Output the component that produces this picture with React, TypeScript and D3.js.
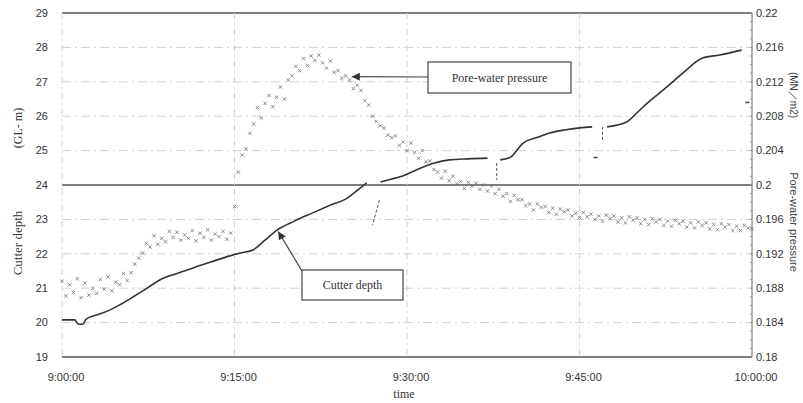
import React, { useEffect, useRef } from 'react'
import * as d3 from 'd3'

// time axis (minutes after 9:00:00)
const timeTickMinutes = [0, 15, 30, 45, 60]
const timeTickLabels = ['9:00:00', '9:15:00', '9:30:00', '9:45:00', '10:00:00']

// left axis: cutter depth (GL- m)
const depthTicks = [19, 20, 21, 22, 23, 24, 25, 26, 27, 28, 29]
const solidDepthLines = [19, 24, 29]

// right axis: pore-water pressure (MN/m2)
const pressureTicks = [0.18, 0.184, 0.188, 0.192, 0.196, 0.2, 0.204, 0.208, 0.212, 0.216, 0.22]

// cutter depth record, null = missing reading
const cutterMinutes = [0, 1.1, 1.4, 1.8, 2.1, 3.0, 4.2, 5.2, 6.2, 7.3, 8.5, 10.0, 11.4, 13.0, 14.6, 15.6, 16.6, 17.6, 18.7, 20.2, 21.8, 23.3, 24.8, 25.7, 26.5, 27.1, 27.7, 28.6, 29.4, 30.9, 32.3, 33.7, 35.3, 37.0, 37.6, 38.1, 39.0, 40.1, 41.3, 42.4, 43.7, 45.0, 46.1, 46.8, 47.4, 49.1, 50.0, 50.9, 52.6, 54.0, 55.7, 57.2, 59.1]
const cutterDepth = [20.08, 20.08, 19.96, 19.95, 20.1, 20.22, 20.37, 20.55, 20.75, 20.98, 21.24, 21.43, 21.59, 21.77, 21.94, 22.03, 22.11, 22.38, 22.69, 22.95, 23.19, 23.41, 23.62, 23.85, 24.06, null, 24.09, 24.17, 24.24, 24.45, 24.63, 24.73, 24.76, 24.78, null, 24.73, 24.81, 25.22, 25.38, 25.51, 25.6, 25.66, 25.69, null, 25.69, 25.83, 26.1, 26.38, 26.85, 27.26, 27.69, 27.78, 27.92]

// drop-outs in the depth record
const dropStartMin = [27.6, 37.8, 47.0]
const dropEndMin = [27.0, 37.8, 47.0]
const dropTop = [23.56, 24.64, 25.69]
const dropBottom = [22.83, 24.15, 25.25]
const strayMinutes = [46.4, 59.6]
const strayDepth = [24.8, 26.4]

// pore-water pressure, one reading every 20 s from 9:00:00
const poreSampleSeconds = 20
const porePressure = [
  0.1888, 0.1871, 0.1884, 0.1875, 0.1891, 0.1869, 0.1886, 0.1872, 0.188, 0.1874, 0.189, 0.1879,
  0.1893, 0.1877, 0.1887, 0.1884, 0.1897, 0.1889, 0.1898, 0.1908, 0.1915, 0.1921, 0.1932, 0.1928,
  0.1941, 0.1931, 0.1938, 0.1934, 0.1946, 0.1939, 0.1945, 0.1936, 0.1942, 0.1938, 0.1947, 0.1935,
  0.1944, 0.1939, 0.1948, 0.1936, 0.1943, 0.194, 0.1946, 0.1937, 0.1944, 0.1975, 0.2015, 0.2035,
  0.2042, 0.206, 0.2071, 0.209, 0.2078, 0.2095, 0.2104, 0.2091, 0.2102, 0.2114, 0.21, 0.2122,
  0.2127, 0.2138, 0.2133, 0.2147, 0.2139, 0.215, 0.2145, 0.2151, 0.2142, 0.2136, 0.2144, 0.2131,
  0.2133, 0.2124, 0.2127, 0.2122, 0.2112, 0.2116, 0.211, 0.2098, 0.2093, 0.208, 0.2074, 0.2069,
  0.2066, 0.2058, 0.2055, 0.2057, 0.2046, 0.205, 0.204, 0.2049, 0.2038, 0.2031, 0.204, 0.2027,
  0.2028, 0.2018, 0.2015, 0.2008, 0.2016, 0.2005, 0.201, 0.2001, 0.2004, 0.1996, 0.2003, 0.1999,
  0.2002, 0.1995, 0.2, 0.1993, 0.1999, 0.199, 0.1995, 0.1987, 0.199, 0.1981, 0.1988, 0.1983,
  0.1983, 0.1976, 0.1978, 0.1971, 0.1978, 0.1974, 0.1975, 0.1968, 0.1973, 0.1966, 0.1972, 0.1969,
  0.1971, 0.1964, 0.1967, 0.1962, 0.1968, 0.1963, 0.1966, 0.196, 0.1964, 0.1958, 0.1965, 0.1961,
  0.1964, 0.1957, 0.1962, 0.1956, 0.1963, 0.1959, 0.1962, 0.1955, 0.196, 0.1954, 0.1961, 0.1957,
  0.196, 0.1953, 0.1958, 0.1952, 0.1959, 0.1955, 0.1958, 0.1951, 0.1956, 0.195, 0.1957, 0.1953,
  0.1956, 0.1949, 0.1954, 0.1948, 0.1955, 0.1951, 0.1954, 0.1947, 0.1952, 0.1947, 0.1953, 0.195,
  0.1949,
]

export default function App() {
  const svgRef = useRef<SVGSVGElement>(null)

  useEffect(() => {
    const svg = d3.select(svgRef.current)
    svg.selectAll('*').remove()

    const left = 62, right = 752, top = 13, bottom = 357
    const x = d3.scaleLinear().domain([0, 60]).range([left, right])
    const yL = d3.scaleLinear().domain([19, 29]).range([bottom, top])
    const yR = d3.scaleLinear().domain([0.18, 0.22]).range([bottom, top])
    const sans = "'Liberation Sans', Arial, sans-serif"
    const serif = "'Liberation Serif', 'Times New Roman', serif"

    // grid
    const grid = svg.append('g')
    grid.selectAll('line.h')
      .data(depthTicks)
      .join('line')
      .attr('x1', left).attr('x2', right)
      .attr('y1', d => yL(d)).attr('y2', d => yL(d))
      .attr('stroke', d => solidDepthLines.includes(d) ? '#555' : '#d2d2d2')
      .attr('stroke-width', d => solidDepthLines.includes(d) ? 1.3 : 1)
      .attr('stroke-dasharray', d => solidDepthLines.includes(d) ? null : '9 4 2 4')
    grid.selectAll('line.v')
      .data(timeTickMinutes.slice(0, -1))
      .join('line')
      .attr('x1', d => x(d)).attr('x2', d => x(d))
      .attr('y1', top).attr('y2', bottom)
      .attr('stroke', '#d2d2d2')
      .attr('stroke-dasharray', '6 4 2 4')

    // right axis
    svg.append('line')
      .attr('x1', right).attr('x2', right).attr('y1', top).attr('y2', bottom)
      .attr('stroke', '#666').attr('stroke-width', 1)
    svg.append('g').selectAll('line')
      .data(d3.range(0, 41).map(i => 0.18 + i * 0.001))
      .join('line')
      .attr('x1', right - 2).attr('x2', right)
      .attr('y1', d => yR(d)).attr('y2', d => yR(d))
      .attr('stroke', '#999')

    // tick labels
    svg.append('g').selectAll('text')
      .data(depthTicks)
      .join('text')
      .attr('x', 48).attr('y', d => yL(d)).attr('dy', '0.35em')
      .attr('text-anchor', 'end')
      .style('font', `11px ${sans}`).attr('fill', '#333')
      .text(d => d)
    svg.append('g').selectAll('text')
      .data(pressureTicks)
      .join('text')
      .attr('x', right + 4).attr('y', d => yR(d)).attr('dy', '0.35em')
      .style('font', `11px ${sans}`).attr('fill', '#333')
      .text(d => String(+d.toFixed(3)))
    svg.append('g').selectAll('text')
      .data(timeTickMinutes)
      .join('text')
      .attr('x', d => x(d) + 4).attr('y', 381)
      .attr('text-anchor', 'middle')
      .style('font', `11px ${sans}`).attr('fill', '#333')
      .text((d, i) => timeTickLabels[i])

    // axis titles
    svg.append('text')
      .attr('x', 404).attr('y', 398).attr('text-anchor', 'middle')
      .style('font', `12px ${serif}`).attr('fill', '#333')
      .text('time')
    svg.append('text')
      .attr('transform', 'translate(22,243) rotate(-90)')
      .attr('text-anchor', 'middle')
      .style('font', `13px ${serif}`).attr('fill', '#333')
      .text('Cutter depth')
    svg.append('text')
      .attr('transform', 'translate(22,128) rotate(-90)')
      .attr('text-anchor', 'middle')
      .style('font', `12px ${serif}`).attr('fill', '#333')
      .text('(GL- m)')
    svg.append('text')
      .attr('transform', 'translate(790,222) rotate(90)')
      .attr('text-anchor', 'middle')
      .style('font', `11px ${sans}`).attr('fill', '#444')
      .text('Pore-water pressure')
    svg.append('text')
      .attr('transform', 'translate(790,95) rotate(90)')
      .attr('text-anchor', 'middle')
      .style('font', `10px ${sans}`).attr('fill', '#444')
      .text('(MN／m2)')

    // pore-water pressure scatter
    svg.append('g').selectAll('path')
      .data(porePressure)
      .join('path')
      .attr('transform', (d, i) => `translate(${x(i * poreSampleSeconds / 60)},${yR(d)})`)
      .attr('d', 'M-1.7,-1.7L1.7,1.7M-1.7,1.7L1.7,-1.7')
      .attr('stroke', '#6f6f6f').attr('stroke-width', 0.8)

    // cutter depth line
    const cutter = cutterMinutes.map((m, i) => [m, cutterDepth[i]] as [number, number | null])
    const line = d3.line<[number, number | null]>()
      .defined(d => d[1] != null)
      .x(d => x(d[0]))
      .y(d => yL(d[1] as number))
      .curve(d3.curveMonotoneX)
    svg.append('path')
      .attr('d', line(cutter))
      .attr('fill', 'none').attr('stroke', '#333').attr('stroke-width', 1.6)
    svg.append('g').selectAll('line')
      .data(dropStartMin)
      .join('line')
      .attr('x1', d => x(d)).attr('x2', (d, i) => x(dropEndMin[i]))
      .attr('y1', (d, i) => yL(dropTop[i])).attr('y2', (d, i) => yL(dropBottom[i]))
      .attr('stroke', '#555').attr('stroke-width', 1).attr('stroke-dasharray', '3 2')
    svg.append('g').selectAll('line')
      .data(strayMinutes)
      .join('line')
      .attr('x1', d => x(d) - 2).attr('x2', d => x(d) + 2)
      .attr('y1', (d, i) => yL(strayDepth[i])).attr('y2', (d, i) => yL(strayDepth[i]))
      .attr('stroke', '#444').attr('stroke-width', 1.5)

    // annotations
    const defs = svg.append('defs')
    defs.append('marker')
      .attr('id', 'head').attr('viewBox', '0 0 10 10')
      .attr('refX', 10).attr('refY', 5)
      .attr('markerWidth', 10).attr('markerHeight', 8)
      .attr('markerUnits', 'userSpaceOnUse')
      .attr('orient', 'auto')
      .append('path').attr('d', 'M0,0L10,5L0,10Z').attr('fill', '#333')

    svg.append('line')
      .attr('x1', 428).attr('y1', 77).attr('x2', x(25.2)).attr('y2', yL(27.15))
      .attr('stroke', '#444').attr('stroke-width', 1.2).attr('marker-end', 'url(#head)')
    svg.append('rect')
      .attr('x', 428).attr('y', 62).attr('width', 143).attr('height', 31)
      .attr('fill', 'white').attr('stroke', '#444').attr('stroke-width', 1.2)
    svg.append('text')
      .attr('x', 499.5).attr('y', 81.5).attr('text-anchor', 'middle')
      .style('font', `12px ${serif}`).attr('fill', '#333')
      .text('Pore-water pressure')

    svg.append('line')
      .attr('x1', 302).attr('y1', 271).attr('x2', x(18.8)).attr('y2', yL(22.65))
      .attr('stroke', '#444').attr('stroke-width', 1.2).attr('marker-end', 'url(#head)')
    svg.append('rect')
      .attr('x', 302).attr('y', 270).attr('width', 101).attr('height', 30)
      .attr('fill', 'white').attr('stroke', '#444').attr('stroke-width', 1.2)
    svg.append('text')
      .attr('x', 352.5).attr('y', 289).attr('text-anchor', 'middle')
      .style('font', `12px ${serif}`).attr('fill', '#333')
      .text('Cutter depth')
  }, [])

  return (
    <svg
      ref={svgRef}
      width={803}
      height={403}
      style={{ position: 'absolute', left: 0, top: 0, background: 'white' }}
    />
  )
}
